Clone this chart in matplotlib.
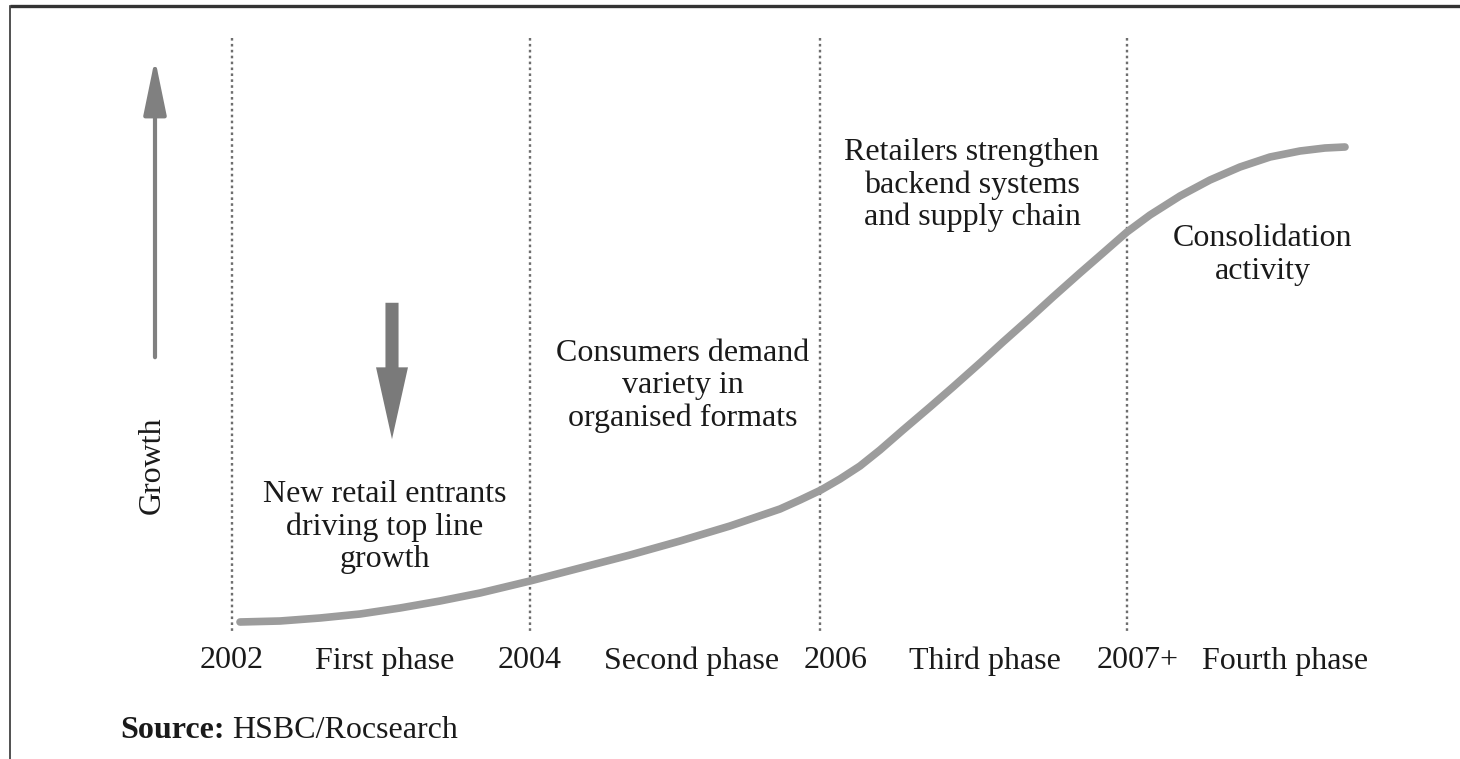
import matplotlib
matplotlib.use("Agg")
import matplotlib.pyplot as plt

# growth curve (x across the page, y down the page)
curve_x = [240, 280, 320, 360, 400, 440, 480, 530, 580, 630, 680, 730, 780, 800,
           821, 840, 860, 880, 903, 930, 953, 980, 1003, 1030, 1053, 1080, 1103,
           1127, 1150, 1180, 1210, 1240, 1270, 1300, 1325, 1345]
curve_y = [622, 621, 618, 614, 608, 601, 593, 581, 568, 555, 541, 526, 509, 500,
           490, 479, 466, 450, 430, 407, 387, 363, 342, 318, 297, 273, 253,
           232, 215, 196, 180, 167, 157, 151, 148, 147]

# phase boundaries and bottom labels
boundary_x = [232, 530, 820, 1127]
year_labels = ["2002", "2004", "2006", "2007+"]
year_x = [232, 530, 836, 1138]
phase_labels = ["First phase", "Second phase", "Third phase", "Fourth phase"]
phase_x = [385, 692, 985, 1285]

notes = ["New retail entrants\ndriving top line\ngrowth",
         "Consumers demand\nvariety in\norganised formats",
         "Retailers strengthen\nbackend systems\nand supply chain",
         "Consolidation\nactivity"]
note_x = [385, 683, 972, 1263]
note_y = [527, 386, 185, 255]

serif = "Liberation Serif"
txt = "#1a1a1a"
fs = 23

fig = plt.figure(figsize=(14.6, 7.59), dpi=100)
ax = fig.add_axes([0, 0, 1, 1])
ax.set_xlim(0, 1460)
ax.set_ylim(759, 0)
ax.axis("off")

# frame: heavy top rule and thin left rule
ax.plot([10, 1460], [6, 6], color="#333333", lw=2.4, solid_capstyle="butt")
ax.plot([10, 10], [6, 759], color="#333333", lw=1.2)

for bx in boundary_x:
    ax.plot([bx, bx], [38, 632], color="#6e6e6e", lw=1.7, ls=(0, (1.1, 1.4)))

ax.plot(curve_x, curve_y, color="#9c9c9c", lw=5.5, solid_capstyle="round",
        solid_joinstyle="round")

# growth axis arrow
ax.annotate("", xy=(155, 56), xytext=(155, 360),
            arrowprops=dict(arrowstyle="-|>,head_length=3.4,head_width=0.7",
                            color="#808080", lw=3.0, mutation_scale=10))
ax.text(152, 465, "Growth", rotation=90, ha="center", va="center",
        fontsize=fs, family=serif, color=txt)

# thick down arrow
ax.annotate("", xy=(392, 442), xytext=(392, 300),
            arrowprops=dict(arrowstyle="simple,head_length=2.25,head_width=1.0,tail_width=0.41",
                            color="#7a7a7a", lw=0, mutation_scale=23))

for s, x, y in zip(notes, note_x, note_y):
    ax.text(x, y, s, ha="center", va="center", fontsize=fs, family=serif,
            color=txt, linespacing=1.15)

for s, x in zip(year_labels, year_x):
    ax.text(x, 661, s, ha="center", va="center", fontsize=fs, family=serif, color=txt)
for s, x in zip(phase_labels, phase_x):
    ax.text(x, 661, s, ha="center", va="center", fontsize=fs, family=serif, color=txt)

src = ax.text(120, 731, "Source:", ha="left", va="center", fontsize=fs,
              family=serif, weight="bold", color=txt)
fig.canvas.draw()
bb = src.get_window_extent().transformed(ax.transData.inverted())
ax.text(bb.x1 + 8, 731, "HSBC/Rocsearch", ha="left", va="center", fontsize=fs,
        family=serif, color=txt)

fig.savefig("out.png", dpi=100)
